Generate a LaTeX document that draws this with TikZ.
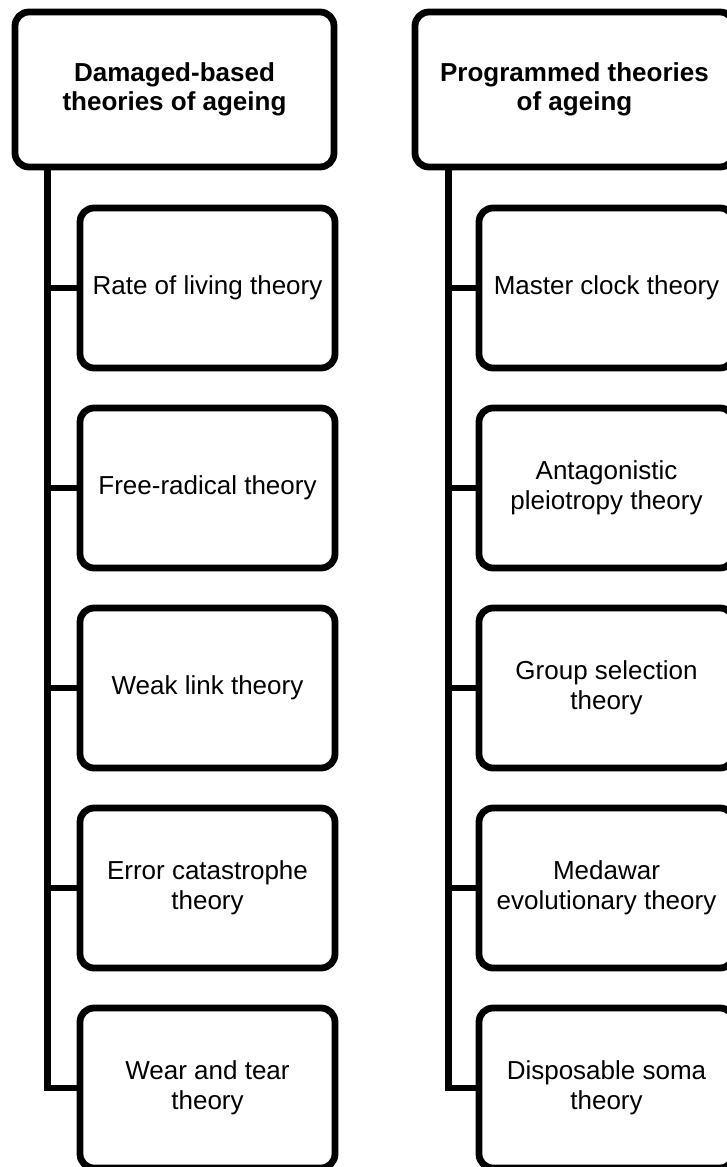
\documentclass[tikz,border=0pt]{standalone}
\usepackage{fontspec}
\setmainfont{Liberation Sans}
\begin{document}
\begin{tikzpicture}[x=1pt,y=-1pt,
  box/.style={draw=black, line width=6.8pt, rounded corners=14pt, rectangle, inner sep=0pt,
    align=center, font=\fontsize{26}{30}\selectfont},
  headbox/.style={box, minimum width=319pt, minimum height=155pt, font=\fontsize{26}{29.5}\selectfont\bfseries},
  childbox/.style={box, minimum width=255pt, minimum height=160pt},
  conn/.style={draw=black, line width=6.8pt}]
\useasboundingbox (0,0) rectangle (726,1167);
% left column
\node[headbox] (lh) at (174.5,89.5) {Damaged-based\\theories of ageing};
\node[childbox] (l1) at (207.5,288) {Rate of living theory};
\node[childbox] (l2) at (207.5,488) {Free-radical theory};
\node[childbox] (l3) at (207.5,688) {Weak link theory};
\node[childbox] (l4) at (207.5,888) {Error catastrophe\\theory};
\node[childbox] (l5) at (207.5,1088) {Wear and tear\\theory};
\coordinate (lv) at (47.5,167);
% right column
\node[headbox] (rh) at (574.5,89.5) {Programmed theories\\of ageing};
\node[childbox] (r1) at (606.5,288) {Master clock theory};
\node[childbox] (r2) at (606.5,488) {Antagonistic\\pleiotropy theory};
\node[childbox] (r3) at (606.5,688) {Group selection\\theory};
\node[childbox] (r4) at (606.5,888) {Medawar\\evolutionary theory};
\node[childbox] (r5) at (606.5,1088) {Disposable soma\\theory};
\coordinate (rv) at (448.5,167);
% connectors
\draw[conn] (lv) |- (l5.west);
\foreach \n in {l1,l2,l3,l4} \draw[conn] (lv) |- (\n.west);
\draw[conn] (rv) |- (r5.west);
\foreach \n in {r1,r2,r3,r4} \draw[conn] (rv) |- (\n.west);
\end{tikzpicture}
\end{document}
